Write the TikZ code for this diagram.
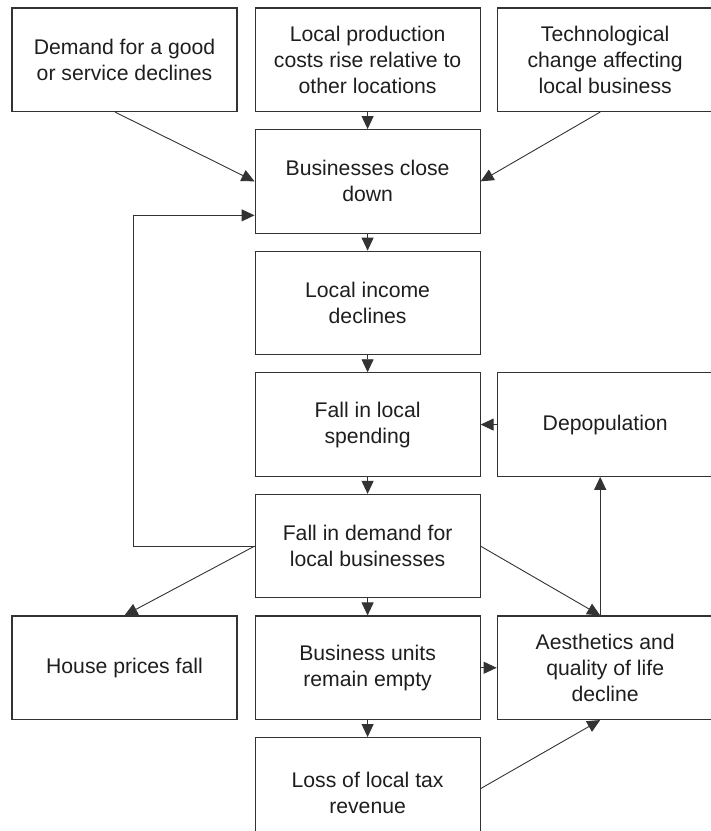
\documentclass[tikz,border=0pt]{standalone}
\usepackage{fontspec}
\setmainfont{Liberation Sans}
\usepackage{xcolor}
\usetikzlibrary{positioning, arrows.meta, calc}
\definecolor{boxline}{HTML}{333333}
\definecolor{inktext}{HTML}{1E1E1E}

\tikzset{
  box/.style={draw=boxline, line width=1.1pt, minimum width=225pt, minimum height=103.5pt,
    inner sep=4pt, align=center, text=inktext, font=\fontsize{21.2}{26}\selectfont},
  link/.style={-{Triangle[length=13pt, width=12pt]}, boxline, line width=0.9pt}
}

\begin{document}
\begin{tikzpicture}[x=1pt, y=1pt, node distance=17pt]
  \useasboundingbox (0,0) rectangle (711,-831);
  % top row of causes
  \node[box] (goods) at (124.5,-59.75) {Demand for a good\\or service declines};
  \node[box, right=17pt of goods] (costs) {Local production\\costs rise relative to\\other locations};
  \node[box, right=16pt of costs, minimum width=216pt] (tech) {Technological\\change affecting\\local business};
  % main chain
  \node[box, below=17pt of costs] (close) {Businesses close\\down};
  \node[box, below=17pt of close] (income) {Local income\\declines};
  \node[box, below=17pt of income] (spend) {Fall in local\\spending};
  \node[box, right=16pt of spend, minimum width=216pt] (depop) {Depopulation};
  \node[box, below=17pt of spend] (fdemand) {Fall in demand for\\local businesses};
  \node[box, below=17pt of fdemand] (units) {Business units\\remain empty};
  \node[box, left=17pt of units] (house) {House prices fall};
  \node[box, right=16pt of units, minimum width=216pt] (aesth) {Aesthetics and\\quality of life\\decline};
  \node[box, below=17pt of units, anchor=north, minimum height=110pt] (loss) {Loss of local tax\\revenue};
  % arrows
  \draw[link] ([xshift=-9.5pt]goods.south) -- (close.west);
  \draw[link] (costs) -- (close);
  \draw[link] ([xshift=-5pt]tech.south) -- (close.east);
  \draw[link] (close) -- (income);
  \draw[link] (income) -- (spend);
  \draw[link] (spend) -- (fdemand);
  \draw[link] (fdemand) -- (units);
  \draw[link] (units) -- (loss);
  \draw[link] (fdemand.west) -- ++(-121,0) |- ([yshift=-34pt]close.west);
  \draw[link] (fdemand.west) -- (house.north);
  \draw[link] (fdemand.east) -- ([xshift=-5pt]aesth.north);
  \draw[link] ([xshift=-5pt]aesth.north) -- ([xshift=-5pt]depop.south);
  \draw[link] (depop.west) -- (spend.east);
  \draw[link] (units) -- (aesth);
  \draw[link] ([yshift=4pt]loss.east) -- ([xshift=-5pt]aesth.south);
\end{tikzpicture}
\end{document}
